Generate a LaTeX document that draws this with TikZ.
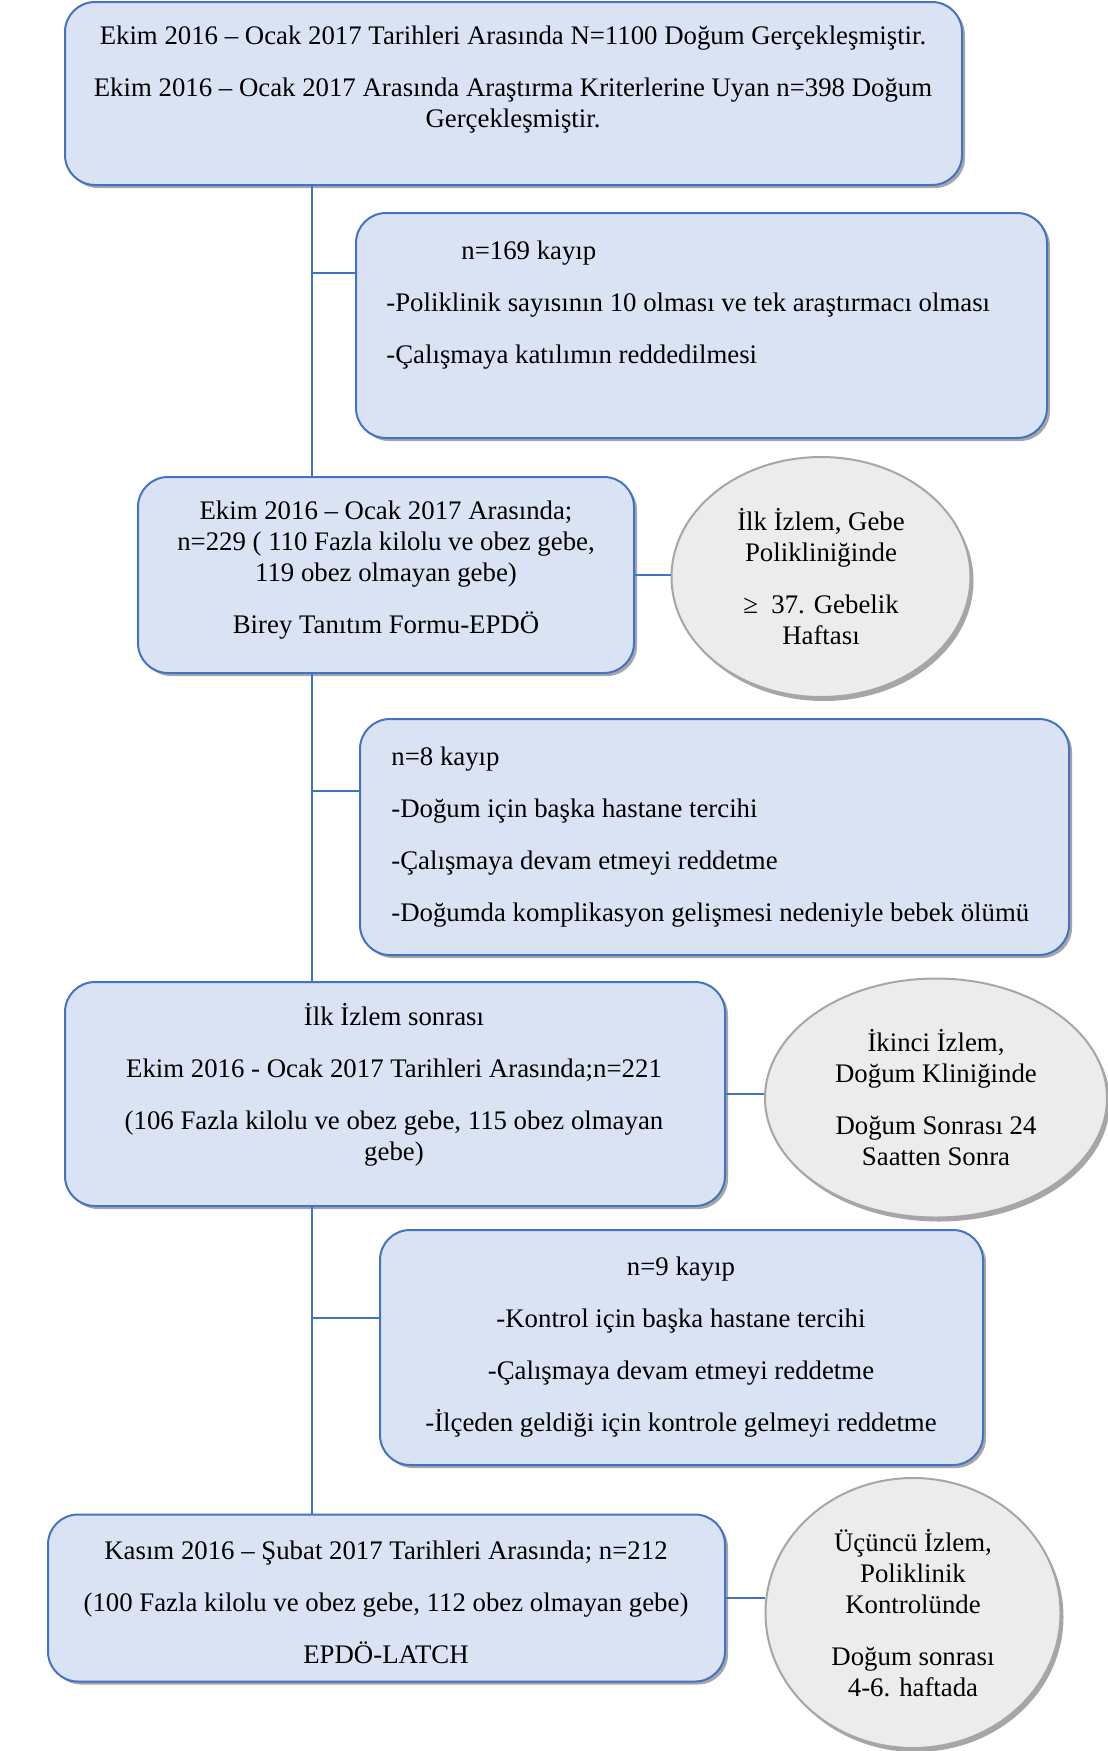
\documentclass[tikz,border=0pt]{standalone}
\usepackage{fontspec}
\setmainfont{Liberation Serif}
\usetikzlibrary{shapes.geometric, shadows}

\definecolor{kutumavi}{RGB}{218,227,243}
\definecolor{cizgimavi}{RGB}{68,114,196}
\definecolor{elipsgri}{RGB}{236,236,236}
\definecolor{kenargri}{RGB}{166,166,166}

\tikzset{
  kutu/.style = {draw = cizgimavi, line width = 1pt, fill = kutumavi, rounded corners = 15pt, inner sep = 0pt,
    drop shadow = {shadow xshift = 1.5pt, shadow yshift = -1.5pt, fill = black, opacity = .35}},
  elips/.style = {ellipse, draw = kenargri, line width = 1pt, fill = elipsgri, inner sep = 0pt, align = center,
    font = \fontsize{13.4}{15.5}\selectfont,
    drop shadow = {shadow xshift = 1.5pt, shadow yshift = -2pt, fill = black, opacity = .35}},
  yazi/.style = {inner sep = 0pt, align = center, font = \fontsize{13.4}{15.5}\selectfont},
  bag/.style = {draw = cizgimavi, line width = .75pt}
}

\begin{document}
\begin{tikzpicture}[x = .5pt, y = -.5pt]
  \useasboundingbox (0, 0) rectangle (1108, 1751);

  \node[kutu, minimum width = 448.5pt, minimum height = 91.5pt] at (513.5, 93.5) (b1) {};
  \node[yazi] at (513, 80) (y1) {Ekim 2016 – Ocak 2017 Tarihleri Arasında N=1100 Doğum Gerçekleşmiştir.\\[10.5pt]
    Ekim 2016 – Ocak 2017 Arasında Araştırma Kriterlerine Uyan n=398 Doğum\\ Gerçekleşmiştir.};

  \node[kutu, minimum width = 345.5pt, minimum height = 112.5pt] at (701.5, 325.5) (b2) {};
  \node[yazi, align = left, anchor = west] at (386, 305) (y2) {\hspace*{37.5pt}n=169 kayıp\\[10.5pt]
    -Poliklinik sayısının 10 olması ve tek araştırmacı olması\\[10.5pt]
    -Çalışmaya katılımın reddedilmesi};

  \node[kutu, minimum width = 248pt, minimum height = 98pt] at (386, 575) (b3) {};
  \node[yazi] at (386, 570) (y3) {Ekim 2016 – Ocak 2017 Arasında;\\ n=229 ( 110 Fazla kilolu ve obez gebe,\\
    119 obez olmayan gebe)\\[10.5pt] Birey Tanıtım Formu-EPDÖ};
  \node[elips, minimum width = 149.5pt, minimum height = 120pt] at (821, 577) (e1) {İlk İzlem, Gebe\\ Polikliniğinde\\[10.5pt]
    ≥\ \ 37. Gebelik\\ Haftası};

  \node[kutu, minimum width = 354.5pt, minimum height = 118pt] at (714.5, 837) (b4) {};
  \node[yazi, align = left, anchor = west] at (391, 837) (y4) {n=8 kayıp\\[10.5pt]
    -Doğum için başka hastane tercihi\\[10.5pt]
    -Çalışmaya devam etmeyi reddetme\\[10.5pt]
    -Doğumda komplikasyon gelişmesi nedeniyle bebek ölümü};

  \node[kutu, minimum width = 330pt, minimum height = 112pt] at (395, 1094) (b5) {};
  \node[yazi] at (394, 1085) (y5) {İlk İzlem sonrası\\[10.5pt] Ekim 2016 - Ocak 2017 Tarihleri Arasında;n=221\\[10.5pt]
    (106 Fazla kilolu ve obez gebe, 115 obez olmayan\\ gebe)};
  \node[elips, minimum width = 171pt, minimum height = 119.5pt] at (936, 1098) (e2) {İkinci İzlem,\\ Doğum Kliniğinde\\[10.5pt]
    Doğum Sonrası 24\\ Saatten Sonra};

  \node[kutu, minimum width = 301.5pt, minimum height = 117.5pt] at (681.5, 1347.5) (b6) {};
  \node[yazi] at (681, 1347) (y6) {n=9 kayıp\\[10.5pt] -Kontrol için başka hastane tercihi\\[10.5pt]
    -Çalışmaya devam etmeyi reddetme\\[10.5pt] -İlçeden geldiği için kontrole gelmeyi reddetme};

  \node[kutu, minimum width = 338.5pt, minimum height = 83.5pt] at (386.5, 1598) (b7) {};
  \node[yazi] at (386, 1602) (y7) {Kasım 2016 – Şubat 2017 Tarihleri Arasında; n=212\\[10.5pt]
    (100 Fazla kilolu ve obez gebe, 112 obez olmayan gebe)\\[10.5pt] EPDÖ-LATCH};
  \node[elips, minimum width = 147.5pt, minimum height = 135pt] at (913, 1613) (e3) {Üçüncü İzlem,\\ Poliklinik\\ Kontrolünde\\[10.5pt]
    Doğum sonrası\\ 4-6. haftada};

  \coordinate (govde) at (312, 0);
  \coordinate (k1) at (0, 273);
  \coordinate (k2) at (0, 791);
  \coordinate (k3) at (0, 1318);
  \foreach \a/\b in {b1/b3, b3/b5, b5/b7}
  {
  \draw[bag] (\a.south -| govde) -- (\b.north -| govde);
  }
  \foreach \k/\b in {k1/b2, k2/b4, k3/b6}
  {
  \draw[bag] (\k -| govde) -- (\k -| \b.west);
  }
  \foreach \b/\e in {b3/e1, b5/e2, b7/e3}
  {
  \draw[bag] (\b.east) -- (\b.east -| \e.west);
  }
\end{tikzpicture}
\end{document}
